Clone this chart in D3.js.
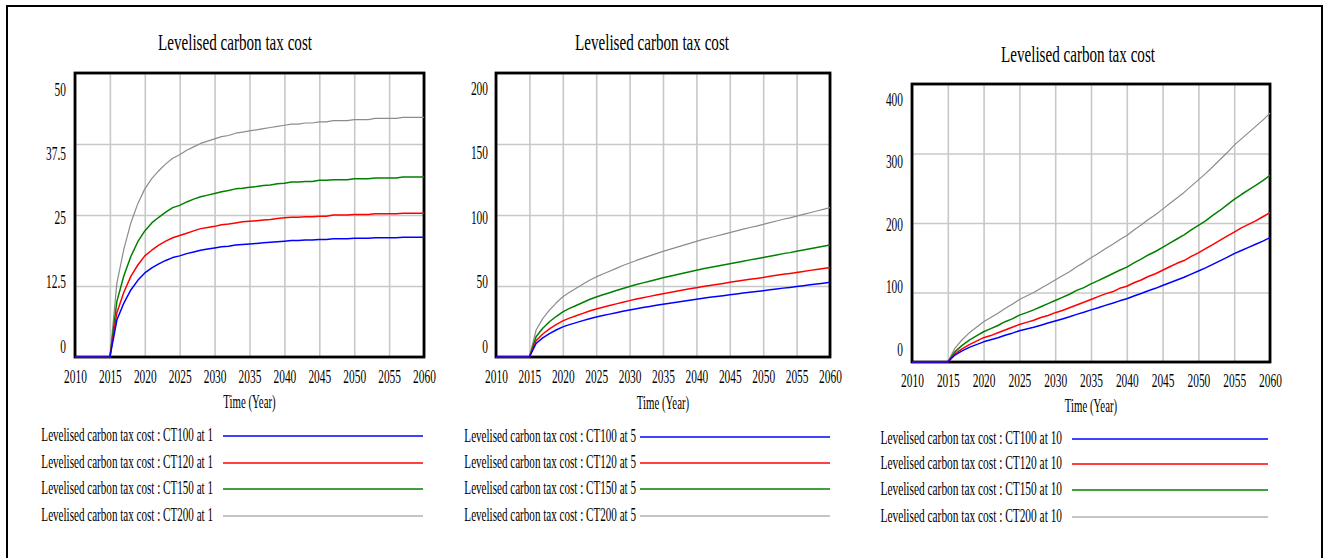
<!DOCTYPE html>
<html><head><meta charset="utf-8">
<script src="https://cdn.jsdelivr.net/npm/d3@7"></script>
<style>
body{margin:0;background:#fff}
svg{display:block}
text{font-family:"Liberation Serif","Times New Roman",serif;fill:#000}
</style>
</head><body>
<svg id="chart" width="1324" height="558"></svg>
<script>
// ---------------- DATA ----------------
const years = [2010,2015,2016,2017,2018,2019,2020,2021,2022,2023,2024,2025,2026,2027,2028,2029,2030,2031,2032,2033,2034,2035,2036,2037,2038,2039,2040,2041,2042,2043,2044,2045,2046,2047,2048,2049,2050,2051,2052,2053,2054,2055,2056,2057,2058,2059,2060];
const xTicks = [2010,2015,2020,2025,2030,2035,2040,2045,2050,2055,2060];
const chartTitle = "Levelised carbon tax cost";
const xAxisTitle = "Time (Year)";
const scenarios = ["CT100","CT120","CT150","CT200"];
const panelSuffix = ["1","5","10"];
const yTicks1 = [0,12.5,25,37.5,50];
const yTicks2 = [0,50,100,150,200];
const yTicks3 = [0,100,200,300,400];

// Panel 1: "at 1"
const ct100_at1 = [0,0,6.5,9.5,11.8,13.5,14.8,15.7,16.4,17.0,17.5,17.8,18.2,18.5,18.8,19.0,19.2,19.4,19.5,19.7,19.8,19.9,20.0,20.1,20.2,20.3,20.4,20.5,20.5,20.6,20.6,20.7,20.7,20.8,20.8,20.8,20.9,20.9,20.9,21.0,21.0,21.0,21.0,21.1,21.1,21.1,21.1];
const ct120_at1 = [0,0,7.8,11.4,14.2,16.2,17.8,18.8,19.7,20.4,21.0,21.4,21.8,22.2,22.6,22.8,23.0,23.3,23.4,23.6,23.8,23.9,24.0,24.1,24.2,24.4,24.5,24.6,24.6,24.7,24.7,24.8,24.8,25.0,25.0,25.0,25.1,25.1,25.1,25.2,25.2,25.2,25.2,25.3,25.3,25.3,25.3];
const ct150_at1 = [0,0,9.8,14.3,17.7,20.3,22.2,23.6,24.6,25.5,26.3,26.7,27.3,27.8,28.2,28.5,28.8,29.1,29.3,29.6,29.7,29.9,30.0,30.2,30.3,30.5,30.6,30.8,30.8,30.9,30.9,31.1,31.1,31.2,31.2,31.2,31.4,31.4,31.4,31.5,31.5,31.5,31.5,31.7,31.7,31.7,31.7];
const ct200_at1 = [0,0,13.0,19.0,23.6,27.0,29.6,31.4,32.8,34.0,35.0,35.6,36.4,37.0,37.6,38.0,38.4,38.8,39.0,39.4,39.6,39.8,40.0,40.2,40.4,40.6,40.8,41.0,41.0,41.2,41.2,41.4,41.4,41.6,41.6,41.6,41.8,41.8,41.8,42.0,42.0,42.0,42.0,42.2,42.2,42.2,42.2];

// Panel 2: "at 5"
const ct100_at5 = [0,0,9.5,13.5,16.5,19.0,21.2,22.8,24.2,25.6,27.0,28.2,29.2,30.2,31.2,32.2,33.1,34.0,34.8,35.6,36.4,37.2,37.9,38.6,39.3,40.0,40.7,41.4,42.0,42.6,43.2,43.8,44.4,45.0,45.6,46.1,46.7,47.3,47.9,48.5,49.0,49.6,50.2,50.8,51.4,52.0,52.6];
const ct120_at5 = [0,0,11.4,16.2,19.8,22.8,25.4,27.4,29.0,30.7,32.4,33.8,35.0,36.2,37.4,38.6,39.7,40.8,41.8,42.7,43.7,44.6,45.5,46.3,47.2,48.0,48.8,49.7,50.4,51.1,51.8,52.6,53.3,54.0,54.7,55.3,56.0,56.8,57.5,58.2,58.8,59.5,60.2,61.0,61.7,62.4,63.1];
const ct150_at5 = [0,0,14.3,20.3,24.8,28.5,31.8,34.2,36.3,38.4,40.5,42.3,43.8,45.3,46.8,48.3,49.7,51.0,52.2,53.4,54.6,55.8,56.9,57.9,59.0,60.0,61.1,62.1,63.0,63.9,64.8,65.7,66.6,67.5,68.4,69.2,70.1,71.0,71.9,72.8,73.5,74.4,75.3,76.2,77.1,78.0,78.9];
const ct200_at5 = [0,0,19.0,27.0,33.0,38.0,42.4,45.6,48.4,51.2,54.0,56.4,58.4,60.4,62.4,64.4,66.2,68.0,69.6,71.2,72.8,74.4,75.8,77.2,78.6,80.0,81.4,82.8,84.0,85.2,86.4,87.6,88.8,90.0,91.2,92.2,93.4,94.6,95.8,97.0,98.0,99.2,100.4,101.6,102.8,104.0,105.2];

// Panel 3: "at 10"
const ct100_at10 = [0,0,10,16,21,25,29,32,35,38.5,41.5,45,47.5,50,53,56,59,62,65,68.5,71.5,75,78,81.5,84.5,88,91,95,98.5,102.5,106,110,114,118,122,126.5,131,135.5,140.5,145.5,150.5,156,160.5,165,169.5,174,179];
const ct120_at10 = [0,0,12,19,25,30,35,38,42,46,50,54,57,60,64,67,71,74,78,82,86,90,94,98,101,106,109,114,118,123,127,132,137,142,146,152,157,163,169,175,181,187,193,198,203,209,215];
const ct150_at10 = [0,0,15,24,31.5,37.5,43.5,48,52.5,58,62,67.5,71,75,79.5,84,88.5,93,97.5,103,107,112.5,117,122,127,132,136.5,142.5,148,154,159,165,171,177,183,190,196.5,203,211,218,226,234,241,247.5,254,261,268.5];
const ct200_at10 = [0,0,20,32,42,50,58,64,70,77,83,90,95,100,106,112,118,124,130,137,143,150,156,163,169,176,182,190,197,205,212,220,228,236,244,253,262,271,281,291,301,312,321,330,339,348,358];

// ---------------- STYLE / LAYOUT ----------------
const colors = ["#0000ff","#ff0000","#008000","#8c8c8c"];
const widths = [1.5,1.5,1.5,1.2];
const SX = 0.6; // horizontal condensation of the serif font

const panels = [
  {data:[ct100_at1,ct120_at1,ct150_at1,ct200_at1], ticks:yTicks1, yMax:50,
   plot:{l:75,r:424,t:73,b:357}, lab:{b0:352,b1:95,right:66}, xLabBase:383, timeBase:408,
   title:{x:235,y:50}, leg:{textRight:213,x1:223,x2:423,rows:[436,463,489,516],sx:0.6}},
  {data:[ct100_at5,ct120_at5,ct150_at5,ct200_at5], ticks:yTicks2, yMax:200,
   plot:{l:496,r:830,t:73,b:357}, lab:{b0:352,b1:94,right:488}, xLabBase:383, timeBase:409,
   title:{x:652,y:50}, leg:{textRight:636,x1:640,x2:830,rows:[437,463,489,516],sx:0.6}},
  {data:[ct100_at10,ct120_at10,ct150_at10,ct200_at10], ticks:yTicks3, yMax:400,
   plot:{l:912,r:1270,t:84,b:362}, lab:{b0:355,b1:105,right:903}, xLabBase:387, timeBase:412,
   title:{x:1078,y:62}, leg:{textRight:1062,x1:1072,x2:1268,rows:[439,464,490,517],sx:0.615}}
];

const svg = d3.select("#chart");

// outer border
svg.append("rect").attr("x",7).attr("y",6).attr("width",1315).attr("height",600)
  .attr("fill","none").attr("stroke","#000").attr("stroke-width",2);

function condText(parent, x, y, str, size, anchor, sx){
  return parent.append("text")
    .attr("transform",`translate(${x},${y}) scale(${sx},1)`)
    .attr("text-anchor",anchor).attr("font-size",size).text(str);
}

panels.forEach((p,pi)=>{
  const g = svg.append("g");
  const x = d3.scaleLinear().domain([2010,2060]).range([p.plot.l,p.plot.r]);
  const y = d3.scaleLinear().domain([0,p.yMax]).range([p.plot.b,p.plot.t]);
  const yLab = d3.scaleLinear().domain([0,p.yMax]).range([p.lab.b0,p.lab.b1]);
  const W = p.plot.r-p.plot.l, H = p.plot.b-p.plot.t;

  // grid
  const gx = g.append("g").attr("transform",`translate(0,${p.plot.b})`)
    .call(d3.axisBottom(x).tickValues(xTicks).tickSize(-H).tickFormat(""));
  const gy = g.append("g").attr("transform",`translate(${p.plot.l},0)`)
    .call(d3.axisLeft(y).tickValues(p.ticks).tickSize(-W).tickFormat(""));
  [gx,gy].forEach(a=>{
    a.select(".domain").remove();
    a.selectAll("line").attr("stroke","#c8c8c8").attr("stroke-width",1.6);
  });

  // frame
  g.append("rect").attr("x",p.plot.l).attr("y",p.plot.t).attr("width",W).attr("height",H)
    .attr("fill","none").attr("stroke","#000").attr("stroke-width",2.8);

  // series lines (draw last series first so blue is on top), over the frame
  const line = d3.line().x((d,i)=>x(years[i])).y(d=>y(d));
  for(let s=3;s>=0;s--){
    g.append("path").datum(p.data[s]).attr("d",line)
      .attr("fill","none").attr("stroke",colors[s]).attr("stroke-width",widths[s])
      .attr("stroke-linejoin","round");
  }

  // x tick labels
  const ax = g.append("g").attr("transform",`translate(0,${p.xLabBase})`)
    .call(d3.axisBottom(x).tickValues(xTicks).tickSize(0).tickFormat(d3.format("d")));
  ax.select(".domain").remove();
  ax.selectAll("text").attr("y",0).attr("dy",0)
    .attr("transform",`scale(${SX},1)`).attr("font-size",19)
    .attr("font-family",'"Liberation Serif",serif').attr("fill","#000");

  // y tick labels
  const ay = g.append("g").attr("transform",`translate(${p.lab.right},0)`)
    .call(d3.axisLeft(yLab).tickValues(p.ticks).tickSize(0).tickFormat(d=>String(d)));
  ay.select(".domain").remove();
  ay.selectAll("text").attr("x",0).attr("dy",0)
    .attr("transform",`scale(${SX},1)`).attr("font-size",19)
    .attr("font-family",'"Liberation Serif",serif').attr("fill","#000");

  // titles
  condText(g, p.title.x, p.title.y, chartTitle, 24, "middle", 0.63);
  condText(g, (p.plot.l+p.plot.r)/2, p.timeBase, xAxisTitle, 19, "middle", 0.57);

  // legend
  scenarios.forEach((sc,si)=>{
    const ry = p.leg.rows[si];
    condText(g, p.leg.textRight, ry+5, `${chartTitle} : ${sc} at ${panelSuffix[pi]}`, 18.5, "end", p.leg.sx);
    g.append("line").attr("x1",p.leg.x1).attr("x2",p.leg.x2).attr("y1",ry).attr("y2",ry)
      .attr("stroke",colors[si]).attr("stroke-width",widths[si]);
  });
});
</script>
</body></html>
